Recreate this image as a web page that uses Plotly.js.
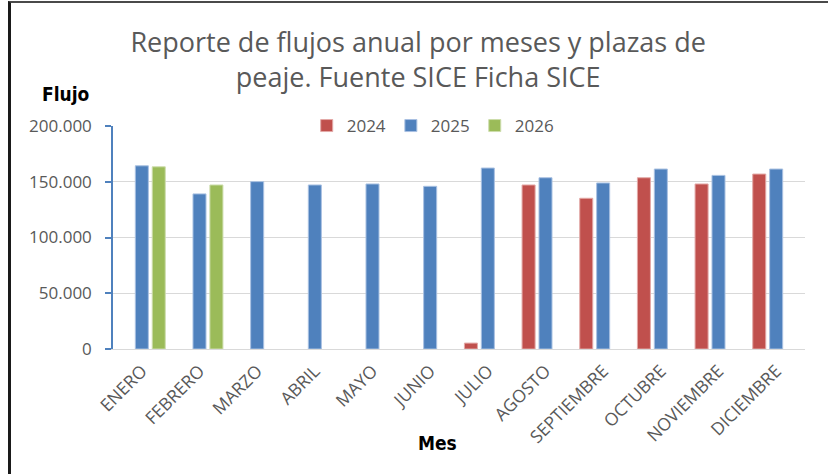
<!DOCTYPE html>
<html>
<head>
<meta charset="utf-8">
<script src="https://cdn.plot.ly/plotly-3.0.1.min.js"></script>
<style>
  html, body { margin: 0; padding: 0; background: #fff; }
  #chart { width: 828px; height: 474px; position: relative; }
  #frame { position: absolute; left: 8px; top: 1px; right: 0; bottom: 0;
           border-left: 3px solid #1a1a1a; border-top: 2px solid #4a4a4a;
           pointer-events: none; }
</style>
</head>
<body>
<div id="chart"></div>
<div id="frame"></div>
<script>
const months = ["ENERO","FEBRERO","MARZO","ABRIL","MAYO","JUNIO","JULIO","AGOSTO","SEPTIEMBRE","OCTUBRE","NOVIEMBRE","DICIEMBRE"];
const flujo2024 = [null, null, null, null, null, null, 5300, 147100, 135200, 153600, 148000, 156900];
const flujo2025 = [164300, 139100, 150100, 147100, 148000, 145900, 162300, 153600, 148900, 161400, 155700, 161400];
const flujo2026 = [163400, 147100, null, null, null, null, null, null, null, null, null, null];
const seriesNames = ["2024", "2025", "2026"];
const yTicks = [0, 50000, 100000, 150000, 200000];

const colors = ["#C0504D", "#4F81BD", "#9BBB59"];
const edge = ["#E3A9A7", "#A9C1E2", "#CDDDAC"];
const data = [flujo2024, flujo2025, flujo2026].map((vals, i) => ({
  type: "bar",
  name: seriesNames[i],
  x: months,
  y: vals,
  marker: { color: colors[i], line: { color: edge[i], width: 1 } },
  hoverinfo: "x+y+name"
}));

const grey = "#595959";
const layout = {
  width: 828, height: 474,
  margin: { l: 113, r: 23, t: 126, b: 125 },
  paper_bgcolor: "#fff", plot_bgcolor: "#fff",
  separators: ",.",
  font: { family: "Open Sans, sans-serif", color: grey },
  title: {
    text: "Reporte de flujos anual por meses y plazas de<br>peaje. Fuente SICE Ficha SICE",
    font: { family: "Open Sans, sans-serif", size: 27, color: grey },
    x: 0.441, xanchor: "center", xref: "paper",
    y: 0.891, yanchor: "middle", yref: "container"
  },
  barmode: "group",
  bargap: 0.12,
  bargroupgap: 0.23,
  showlegend: true,
  legend: {
    orientation: "h", x: 0.462, xanchor: "center", y: 1, yanchor: "middle",
    bgcolor: "#fff", font: { size: 17, color: grey }, itemwidth: 30,
    traceorder: "normal"
  },
  xaxis: {
    type: "category",
    tickangle: -45,
    tickfont: { size: 17.5, color: grey },
    showline: true, linecolor: "#D9D9D9", linewidth: 1,
    ticks: "", showgrid: false, fixedrange: true,
    ticklabelstandoff: 4
  },
  yaxis: {
    range: [0, 200000],
    tickvals: yTicks,
    tickformat: ",d",
    tickfont: { size: 17, color: grey },
    showline: true, linecolor: "#4F81BD", linewidth: 1.5,
    ticks: "outside", ticklen: 6, tickcolor: "#4F81BD", tickwidth: 1.5,
    ticklabelstandoff: 10,
    gridcolor: "#D9D9D9", gridwidth: 1,
    zeroline: false, fixedrange: true
  },
  annotations: [
    { text: "<b>Flujo</b>", xref: "paper", yref: "paper", x: -0.1055, y: 1.085, xanchor: "left", yanchor: "bottom",
      showarrow: false, font: { family: "Liberation Sans Narrow, DejaVu Sans Condensed, sans-serif", size: 19, color: "#000" } },
    { text: "<b>Mes</b>", xref: "paper", yref: "paper", x: 0.469, y: -0.365, xanchor: "center", yanchor: "top",
      showarrow: false, font: { family: "Liberation Sans Narrow, DejaVu Sans Condensed, sans-serif", size: 19, color: "#000" } }
  ]
};

Plotly.newPlot("chart", data, layout, { displayModeBar: false, responsive: false });
</script>
</body>
</html>
